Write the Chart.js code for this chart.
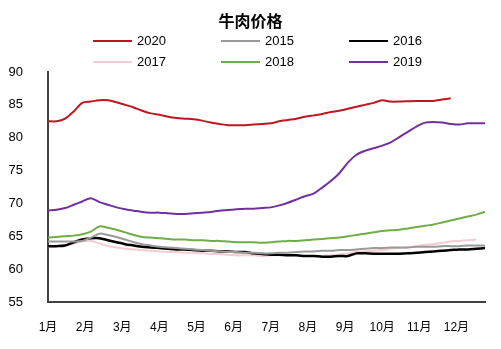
<!DOCTYPE html>
<html>
<head>
<meta charset="utf-8">
<script src="https://cdn.jsdelivr.net/npm/chart.js@4"></script>
<style>
    body { margin: 0; background: #fff; }
    #wrap { position: relative; width: 501px; height: 349px; font-family: "Liberation Sans", "Noto Sans CJK SC", sans-serif; }
    #title { position: absolute; left: 0; top: 9px; width: 501px; text-align: center; font: bold 16px/22px "Noto Sans CJK SC", sans-serif; color: #000; }
    .item { position: absolute; height: 14px; font-size: 13px; line-height: 14px; color: #000; }
    .item .line { position: absolute; left: 0; top: 6px; width: 39px; height: 2px; }
    .item .txt { position: absolute; left: 44px; top: 0; }
    #chart { position: absolute; left: 0; top: 0; }
</style>
</head>
<body>
<div id="wrap">
    <canvas id="chart" width="501" height="349"></canvas>
    <div id="title">牛肉价格</div>
    <div id="legend"></div>
</div>
<script>
// 图例顺序
const years = ["2020", "2015", "2016", "2017", "2018", "2019"];
const colors = ["#C0161F", "#9A9A9A", "#000000", "#F4CCD3", "#70AD47", "#7030A0"];
const monthLabels = ["1月", "2月", "3月", "4月", "5月", "6月", "7月", "8月", "9月", "10月", "11月", "12月"];
const yTicks = [55, 60, 65, 70, 75, 80, 85, 90];

// 周度价格 (元/公斤)
const price2020 = [82.5, 82.5, 82.9, 84.0, 85.3, 85.5, 85.7, 85.7, 85.4, 85.0, 84.6, 84.1, 83.7, 83.5, 83.2, 83.0,
    82.9, 82.8, 82.6, 82.3, 82.1, 81.9, 81.9, 81.9, 82.0, 82.1, 82.2, 82.5, 82.7, 82.9, 83.2, 83.4,
    83.6, 83.9, 84.1, 84.4, 84.7, 85.0, 85.3, 85.7, 85.5, 85.5, 85.55, 85.6, 85.6, 85.6, 85.8, 86.0];
const price2015 = [64.2, 64.2, 64.2, 64.2, 64.3, 64.8, 65.4, 65.2, 64.9, 64.5, 64.1, 63.8, 63.6, 63.4, 63.3, 63.2,
    63.1, 63.0, 62.9, 62.8, 62.7, 62.6, 62.6, 62.5, 62.5, 62.4, 62.4, 62.5, 62.5, 62.6, 62.7, 62.7,
    62.8, 62.8, 62.9, 62.9, 63.0, 63.1, 63.2, 63.2, 63.3, 63.3, 63.3, 63.4, 63.4, 63.4, 63.5, 63.5,
    63.5, 63.6, 63.6, 63.6];
const price2016 = [63.5, 63.5, 63.6, 64.1, 64.5, 64.7, 64.7, 64.4, 64.1, 63.8, 63.6, 63.4, 63.3, 63.2, 63.1, 63.0,
    63.0, 62.9, 62.8, 62.8, 62.7, 62.7, 62.6, 62.6, 62.4, 62.3, 62.2, 62.2, 62.1, 62.1, 62.0, 62.0,
    61.9, 61.9, 62.0, 62.0, 62.4, 62.4, 62.35, 62.35, 62.35, 62.35, 62.4, 62.5, 62.6, 62.7, 62.8, 62.9,
    63.0, 63.0, 63.1, 63.2];
const price2017 = [63.4, 63.5, 63.7, 63.9, 64.2, 64.3, 63.9, 63.5, 63.3, 63.1, 63.0, 62.9, 62.8, 62.7, 62.6, 62.6,
    62.5, 62.5, 62.4, 62.3, 62.3, 62.2, 62.1, 62.1, 62.1, 62.0, 62.1, 62.1, 62.1, 62.1, 62.0, 62.0,
    62.0, 62.1, 62.2, 62.4, 62.6, 62.7, 62.8, 62.9, 63.1, 63.2, 63.3, 63.5, 63.7, 63.8, 64.0, 64.2,
    64.3, 64.4, 64.5];
const price2018 = [64.8, 64.9, 65.0, 65.1, 65.3, 65.7, 66.5, 66.3, 66.0, 65.6, 65.2, 64.9, 64.8, 64.7, 64.6, 64.5,
    64.5, 64.4, 64.4, 64.3, 64.3, 64.2, 64.1, 64.1, 64.1, 64.0, 64.1, 64.2, 64.3, 64.3, 64.4, 64.5,
    64.6, 64.7, 64.8, 65.0, 65.2, 65.4, 65.6, 65.8, 65.9, 66.0, 66.2, 66.4, 66.6, 66.8, 67.1, 67.4,
    67.7, 68.0, 68.3, 68.7];
const price2019 = [68.9, 69.05, 69.3, 69.8, 70.3, 70.8, 70.2, 69.8, 69.4, 69.1, 68.9, 68.7, 68.6, 68.6, 68.5, 68.4,
    68.4, 68.5, 68.6, 68.7, 68.9, 69.0, 69.1, 69.2, 69.2, 69.3, 69.4, 69.7, 70.1, 70.6, 71.1, 71.5,
    72.4, 73.4, 74.6, 76.2, 77.4, 78.0, 78.4, 78.8, 79.3, 80.1, 80.9, 81.7, 82.3, 82.4, 82.3, 82.1,
    82.0, 82.2, 82.2, 82.2];

const series = [price2020, price2015, price2016, price2017, price2018, price2019];

// 第 i 周 → 月份坐标
const toPoints = arr => arr.map((v, i) => ({ x: i * 12 / 52, y: v }));

const ctx = document.getElementById("chart").getContext("2d");
new Chart(ctx, {
    type: "line",
    data: {
        datasets: years.map((y, i) => ({
            label: y,
            data: toPoints(series[i]),
            borderColor: colors[i],
            backgroundColor: colors[i],
            borderWidth: i === 2 ? 2.5 : 2,
            pointRadius: 0,
            tension: 0.3,
            fill: false
        }))
    },
    options: {
        responsive: false,
        animation: false,
        layout: { padding: { top: 72, right: 16, left: 0, bottom: 0 } },
        plugins: {
            legend: { display: false },
            title: { display: false },
            tooltip: { enabled: false }
        },
        scales: {
            x: {
                type: "linear",
                min: 0,
                max: 51 * 12 / 52,
                grid: { display: false },
                border: { display: true, color: "#404040", width: 2 },
                afterBuildTicks: axis => { axis.ticks = monthLabels.map((m, i) => ({ value: i })); },
                afterFit: axis => { axis.height = 47; },
                ticks: {
                    autoSkip: false,
                    maxRotation: 0,
                    padding: 10,
                    color: "#000",
                    font: { size: 12, family: "'Liberation Sans', 'Noto Sans CJK SC'" },
                    callback: (v, idx) => monthLabels[idx]
                }
            },
            y: {
                min: 55,
                max: 90,
                grid: { display: false },
                border: { display: true, color: "#404040", width: 2 },
                afterBuildTicks: axis => { axis.ticks = yTicks.map(v => ({ value: v })); },
                afterFit: axis => { axis.width = 48; },
                ticks: {
                    padding: 17,
                    color: "#000",
                    font: { size: 13, family: "'Liberation Sans', 'Noto Sans CJK SC'" }
                }
            }
        }
    }
});

// 图例 (三列两行)
const legend = document.getElementById("legend");
years.forEach((y, i) => {
    const item = document.createElement("div");
    item.className = "item";
    item.style.left = (93 + 128 * (i % 3)) + "px";
    item.style.top = (34 + 21 * Math.floor(i / 3)) + "px";
    item.innerHTML = `<span class="line" style="background:${colors[i]}"></span><span class="txt">${y}</span>`;
    legend.appendChild(item);
});
</script>
</body>
</html>
